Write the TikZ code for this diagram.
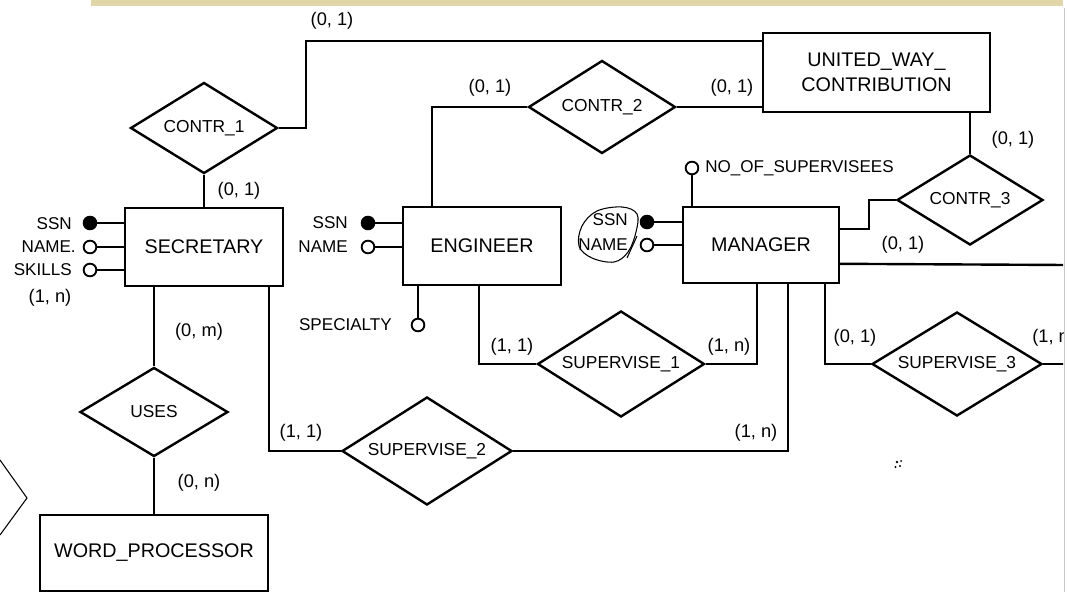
\documentclass[tikz,border=0pt]{standalone}
\usepackage{fontspec}
\setmainfont{Liberation Sans}
\usetikzlibrary{shapes.geometric,calc}
\definecolor{bandcol}{RGB}{224,214,170}
\definecolor{edgegray}{RGB}{200,200,200}
\tikzset{
  ent/.style={draw, line width=1.8pt, rectangle, inner sep=0pt, font=\fontsize{14.8}{18.75}\selectfont},
  rel/.style={draw, line width=1.8pt, diamond, aspect=1.6, inner sep=0pt, font=\fontsize{13}{15}\selectfont},
  keyattr/.style={circle, draw, fill=black, line width=1.4pt, minimum size=9.5pt, inner sep=0pt},
  attr/.style={circle, draw, fill=white, line width=1.4pt, minimum size=9.5pt, inner sep=0pt},
  alabel/.style={inner sep=0pt, font=\fontsize{12.8}{15}\selectfont},
  card/.style={inner sep=0pt, font=\fontsize{13.7}{16}\selectfont},
  conn/.style={line width=1.8pt},
  scribble/.style={line width=0.8pt},
}
\begin{document}
\begin{tikzpicture}[x=0.75pt, y=-0.75pt]
\useasboundingbox (0,0) rectangle (1067,592);
\fill[white] (0,0) rectangle (1067,592);
\fill[bandcol] (91,0) rectangle (1063,6);
\draw[edgegray, line width=0.75pt] (1064.5,8) -- (1064.5,592);
% left chevron
\draw[line width=0.8pt] (0,460) -- (27,498) -- (0,535);

\begin{scope}
\clip (0,6) rectangle (1063,592);
% entities
\node[ent, minimum width={158*0.75pt}, minimum height={78*0.75pt}] (sec) at (204,247) {SECRETARY};
\node[ent, minimum width={158*0.75pt}, minimum height={78*0.75pt}] (eng) at (482,246) {ENGINEER};
\node[ent, minimum width={156*0.75pt}, minimum height={76*0.75pt}] (mgr) at (761,245) {MANAGER};
\node[ent, minimum width={227*0.75pt}, minimum height={79*0.75pt}, align=center] (uw) at (876.5,72.5) {UNITED\_WAY\_\\CONTRIBUTION};
\node[ent, minimum width={228*0.75pt}, minimum height={76*0.75pt}] (wp) at (154,553) {WORD\_PROCESSOR};

% relationships
\node[rel, minimum width={147*0.75pt}, minimum height={91*0.75pt}] (c1) at (204,128) {CONTR\_1};
\node[rel, minimum width={147*0.75pt}, minimum height={93*0.75pt}] (c2) at (602,107) {CONTR\_2};
\node[rel, minimum width={146*0.75pt}, minimum height={90*0.75pt}] (c3) at (970,200) {CONTR\_3};
\node[rel, minimum width={148*0.75pt}, minimum height={89*0.75pt}] (uses) at (154,412) {USES};
\node[rel, minimum width={167*0.75pt}, minimum height={106*0.75pt}] (s1) at (621,364) {SUPERVISE\_1};
\node[rel, minimum width={170*0.75pt}, minimum height={108*0.75pt}] (s2) at (427,451) {SUPERVISE\_2};
\node[rel, minimum width={170*0.75pt}, minimum height={104*0.75pt}] (s3) at (957,364) {SUPERVISE\_3};

% free ends at the right edge
\coordinate (offA) at (1066,265);
\coordinate (offB) at (1066,364);

% connectors
\draw[conn] (c1.east) -- ++(27,0) |- ($(uw.north west)+(0,9)$);
\draw[conn] (c1.south) -- (sec.north);
\draw[conn] (c2.west) -| ($(eng.north west)+(30,0)$);
\draw[conn] (c2.east) -- (c2.east -| uw.west);
\draw[conn] (uw.south -| c3.north) -- (c3.north);
\draw[conn] (c3.west) -- ++(-27,0) |- ($(mgr.north east)+(0,23)$);
\draw[conn] ($(mgr.north east)+(0,58)$) -- (offA);
\draw[conn] (sec.south -| uses.north) -- (uses.north);
\draw[conn] ($(sec.south east)+(-15,0)$) |- (s2.west);
\draw[conn] (uses.south) -- (wp.north);
\draw[conn] ($(eng.south west)+(77,0)$) |- (s1.west);
\draw[conn] (s1.east) -| ($(mgr.south west)+(75,0)$);
\draw[conn] (s2.east) -| ($(mgr.south west)+(106,0)$);
\draw[conn] ($(mgr.south west)+(143,0)$) |- (s3.west);
\draw[conn] (s3.east) -- (offB);

% attributes: SECRETARY
\node[keyattr] (secssn) at (90,223) {};
\node[attr] (secname) at (90,247) {};
\node[attr] (secskills) at (90,270) {};
\draw[conn] (secssn) -- (secssn -| sec.west);
\draw[conn] (secname) -- (secname -| sec.west);
\draw[conn] (secskills) -- (secskills -| sec.west);
\node[alabel, anchor=east] (lsecssn) at (72,224) {SSN};
\node[alabel, anchor=east] (lsecname) at (76,247) {NAME.};
\node[alabel, anchor=east] (lsecskills) at (72,270) {SKILLS};

% attributes: ENGINEER
\node[keyattr] (engssn) at (368,223) {};
\node[attr] (engname) at (368,247) {};
\node[attr] (engspec) at (418,325) {};
\draw[conn] (engssn) -- (engssn -| eng.west);
\draw[conn] (engname) -- (engname -| eng.west);
\draw[conn] (engspec) -- (engspec |- eng.south);
\node[alabel, anchor=east] (lengssn) at (348,223) {SSN};
\node[alabel, anchor=east] (lengname) at (348,247) {NAME};
\node[alabel, anchor=east] (lengspec) at (392,325) {SPECIALTY};

% attributes: MANAGER
\node[keyattr] (mgrssn) at (647,222) {};
\node[attr] (mgrname) at (647,245) {};
\node[attr] (mgrnos) at (692,168) {};
\draw[conn] (mgrssn) -- (mgrssn -| mgr.west);
\draw[conn] (mgrname) -- (mgrname -| mgr.west);
\draw[conn] (mgrnos) -- (mgrnos |- mgr.north);
\node[alabel, anchor=east] (lmgrssn) at (628,220) {SSN};
\node[alabel, anchor=east] (lmgrname) at (628,244.5) {NAME};
\node[alabel, anchor=west] (lmgrnos) at (705,168) {NO\_OF\_SUPERVISEES};
% hand-drawn loop round SSN / NAME
\draw[scribble] plot[smooth cycle, tension=0.6] coordinates {(597,211) (622,207) (637,214) (636,232) (628,252) (614,262) (592,258) (579,246) (582,226)};
\draw[scribble] (627,258) -- (637,236);

% cardinalities
\node[card] (k1) at (332,21) {(0, 1)};
\node[card] (k2) at (239,191) {(0, 1)};
\node[card] (k3) at (490,88) {(0, 1)};
\node[card] (k4) at (732,88) {(0, 1)};
\node[card] (k5) at (1013,140) {(0, 1)};
\node[card] (k6) at (903,245) {(0, 1)};
\node[card] (k7) at (50,298) {(1, n)};
\node[card] (k8) at (199,332) {(0, m)};
\node[card] (k9) at (199,483) {(0, n)};
\node[card] (k10) at (301,433) {(1, 1)};
\node[card] (k11) at (512,347) {(1, 1)};
\node[card] (k12) at (729,347) {(1, n)};
\node[card] (k13) at (756,433) {(1, n)};
\node[card] (k14) at (855,338) {(0, 1)};
\node[card, anchor=west] (k15) at (1032,338) {(1, n)};

% small speck
\fill (897,462) circle (1.3);
\fill (900,466) circle (1.2);
\fill (895.5,467) circle (1.1);
\fill (901,461) circle (1);
\end{scope}
\end{tikzpicture}
\end{document}
